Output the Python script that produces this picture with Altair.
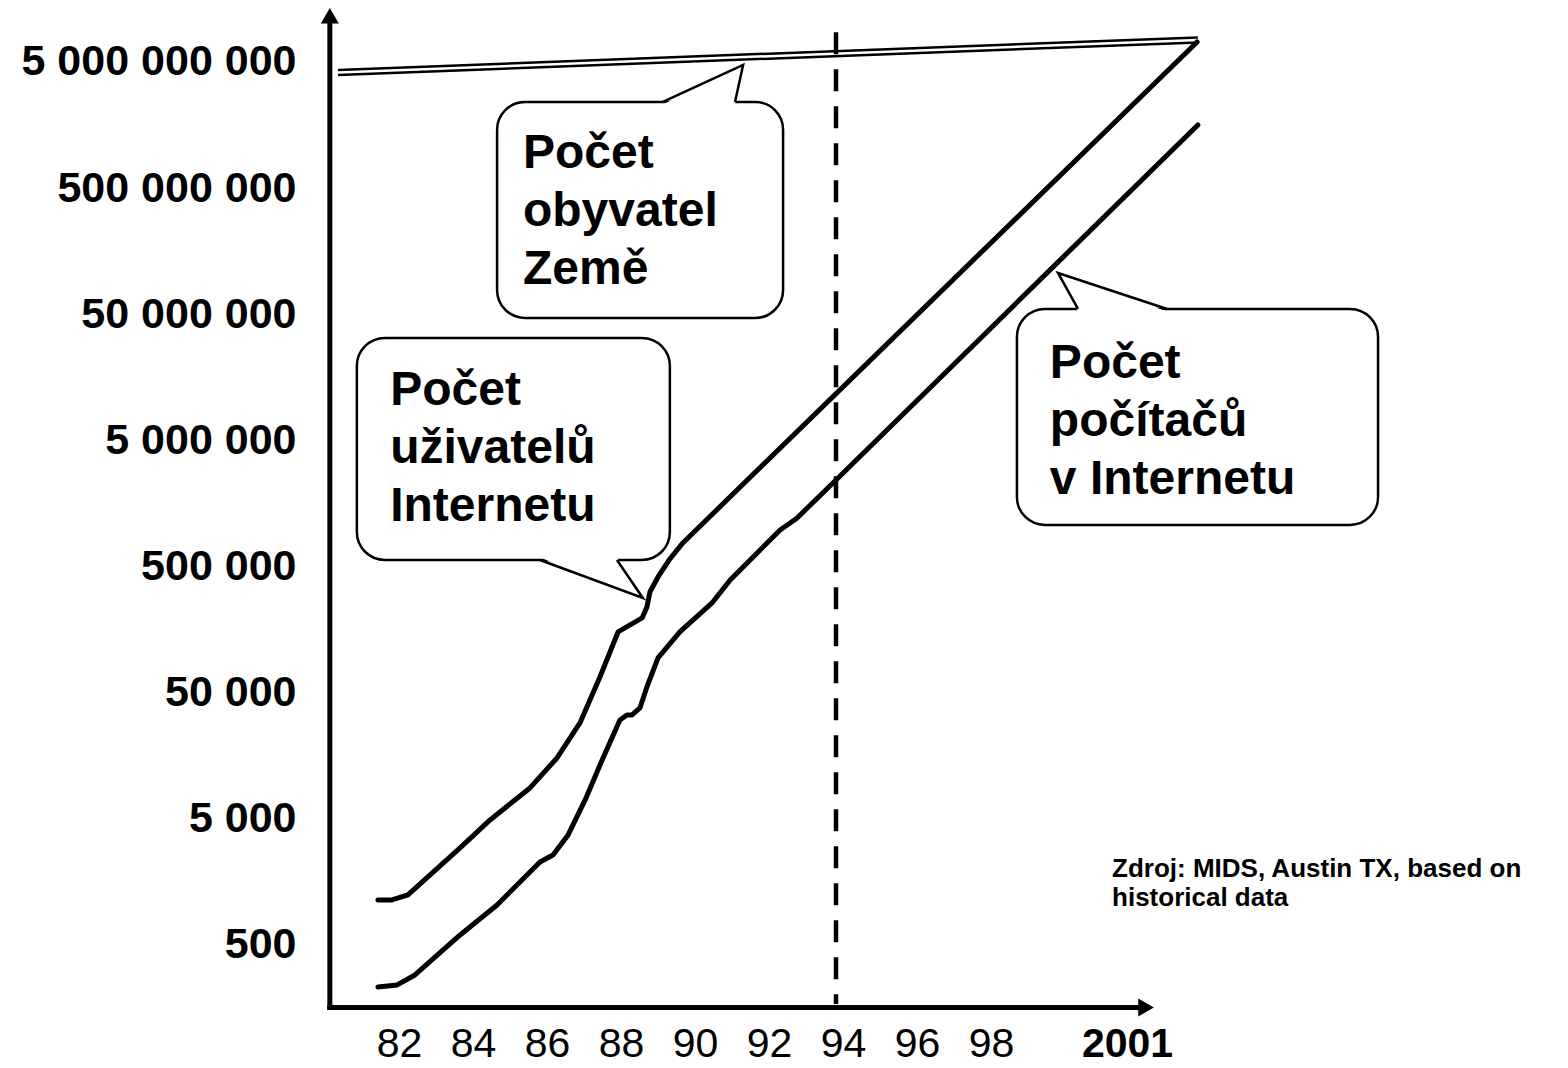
import altair as alt
import pandas as pd

# ---------------- values ----------------
users_year = [1981.62, 1982.00, 1982.43, 1983.03, 1983.84, 1984.65, 1985.73,
              1986.46, 1987.08, 1987.62, 1988.11, 1988.76, 1988.89, 1988.97,
              1989.19, 1989.51, 1989.86, 2003.76]
users_value = [1136, 1136, 1245, 1794, 2936, 4896, 8781, 15180, 28760, 66600,
               151400, 195600, 239000, 314300, 413200, 574000, 769000, 7.2e9]

hosts_year = [1981.62, 1982.14, 1982.62, 1983.84, 1984.84, 1986.00, 1986.35,
              1986.76, 1987.22, 1987.68, 1988.16, 1988.35, 1988.49, 1988.70,
              1988.89, 1989.19, 1989.78, 1990.65, 1991.14, 1991.95, 1992.49,
              1992.95, 1994.00, 2003.78]
hosts_value = [232, 241, 289, 600, 1037, 2274, 2584, 3723, 7052, 14640, 30380,
               33290, 33290, 37820, 55490, 94210, 151400, 257100, 391200,
               676700, 974600, 1213000, 2428000, 1.584e9]

pop_year = [1980.54, 2003.78]
pop_value = [4.13e9, 7.47e9]

marker_year = [1994]
marker_top = [8.6e9]
marker_bottom = [170]

y_ticks = [500, 5000, 50000, 500000, 5e6, 5e7, 5e8, 5e9]
x_ticks = [1982, 1984, 1986, 1988, 1990, 1992, 1994, 1996, 1998, 2001]

# axis lines (drawn as arrows)
yaxis_year = [1980.32]
yaxis_from = [152.4]
yaxis_to = [1.037e10]
yarrow_value = [1.161e10]
xaxis_value = [159.6]
xaxis_from = [1980.25]
xaxis_to = [2002.2]
xarrow_year = [2002.38]

# speech-bubble callouts
callout_text = ["Počet\nobyvatel\nZemě",
                "Počet\nuživatelů\nInternetu",
                "Počet\npočítačů\nv Internetu"]
callout_x0 = [1984.84, 1981.05, 1998.89]
callout_x1 = [1992.57, 1989.51, 2008.65]
callout_top = [2.409e9, 3.243e7, 5.507e7]
callout_bottom = [4.672e7, 5.636e5, 1.068e6]
callout_text_x = [1985.54, 1981.95, 1999.78]
callout_text_y = [7.22e8, 9.55e6, 1.563e7]
tail_a = [1989.32, 1986.00, 2000.54]
tail_b = [1991.27, 1988.08, 2002.95]
tail_base = [2.409e9, 5.636e5, 5.507e7]
tail_inner = [2.30e9, 5.90e5, 5.26e7]
tail_tip_x = [1991.49, 1988.78, 2000.00]
tail_tip_y = [4.733e9, 2.816e5, 1.062e8]

source_text = ["Zdroj: MIDS, Austin TX, based on\nhistorical data"]
source_x = [2001.46]
source_y = [1728]

# ---------------- chart ----------------
FONT = "Liberation Sans, Arial, sans-serif"

xs = alt.Scale(domain=[1980, 2010], nice=False, zero=False)
ys = alt.Scale(type="log", domain=[164, 1.2e10], nice=False)

x_axis = alt.Axis(
    values=x_ticks,
    labelExpr="datum.value == 2001 ? '2001' : '' + (datum.value % 100)",
    labelFont=FONT, labelFontSize=41, labelColor="black",
    labelFontWeight={"condition": {"test": "datum.value == 2001", "value": "bold"},
                     "value": "normal"},
    labelOffset={"condition": {"test": "datum.value == 2001", "value": 32},
                 "value": 7},
    labelPadding=18, labelFlush=False, labelOverlap=False, labelLimit=0,
    domain=False, ticks=False, tickSize=0, grid=False, title=None,
)
y_axis = alt.Axis(
    values=y_ticks,
    labelExpr="replace(format(datum.value, ','), regexp(',', 'g'), ' ')",
    labelFont=FONT, labelFontSize=43, labelFontWeight="bold", labelColor="black",
    labelPadding=22, labelFlush=False, labelOverlap=False, labelAlign="right",
    labelBaseline="middle", labelLimit=0,
    domain=False, ticks=False, tickSize=0, grid=False, title=None,
)


def X(f):
    return alt.X(f"{f}:Q", scale=xs, axis=x_axis)


def Y(f):
    return alt.Y(f"{f}:Q", scale=ys, axis=y_axis)


users_df = pd.DataFrame({"year": users_year, "value": users_value})
hosts_df = pd.DataFrame({"year": hosts_year, "value": hosts_value})
pop_df = pd.DataFrame({"year": pop_year, "value": pop_value})

line_style = dict(color="black", strokeWidth=5, strokeCap="round", strokeJoin="round")
users = alt.Chart(users_df).mark_line(**line_style).encode(x=X("year"), y=Y("value"))
hosts = alt.Chart(hosts_df).mark_line(**line_style).encode(x=X("year"), y=Y("value"))
pop_outer = alt.Chart(pop_df).mark_line(color="black", strokeWidth=7.5).encode(
    x=X("year"), y=Y("value"))
pop_inner = alt.Chart(pop_df).mark_line(color="white", strokeWidth=2.5).encode(
    x=X("year"), y=Y("value"))

marker_df = pd.DataFrame({"year": marker_year, "top": marker_top, "bottom": marker_bottom})
marker = alt.Chart(marker_df).mark_rule(
    color="black", strokeWidth=4.5, strokeDash=[22, 15]
).encode(x=X("year"), y=Y("top"), y2="bottom:Q")

# axes with arrows
yaxis_df = pd.DataFrame({"year": yaxis_year, "a": yaxis_from, "b": yaxis_to,
                         "tip": yarrow_value})
yaxis_line = alt.Chart(yaxis_df).mark_rule(color="black", strokeWidth=5).encode(
    x=X("year"), y=Y("a"), y2="b:Q")
yaxis_arrow = alt.Chart(yaxis_df).mark_point(
    shape="triangle-up", filled=True, size=324, color="black", opacity=1
).encode(x=X("year"), y=Y("tip"))

xaxis_df = pd.DataFrame({"value": xaxis_value, "a": xaxis_from, "b": xaxis_to,
                         "tip": xarrow_year})
xaxis_line = alt.Chart(xaxis_df).mark_rule(color="black", strokeWidth=5).encode(
    y=Y("value"), x=X("a"), x2="b:Q")
xaxis_arrow = alt.Chart(xaxis_df).mark_point(
    shape="triangle-right", filled=True, size=324, color="black", opacity=1
).encode(y=Y("value"), x=X("tip"))

# callouts
box_df = pd.DataFrame({"x0": callout_x0, "x1": callout_x1,
                       "y0": callout_top, "y1": callout_bottom})
boxes = alt.Chart(box_df).mark_rect(
    fill="white", stroke="black", strokeWidth=2.5, cornerRadius=28
).encode(x=X("x0"), x2="x1:Q", y=Y("y0"), y2="y1:Q")

tail_fill_rows = []
tail_line_rows = []
for i in range(len(tail_a)):
    tail_fill_rows.append({"t": i, "ty": tail_inner[i], "tx": tail_a[i], "tx2": tail_b[i]})
    tail_fill_rows.append({"t": i, "ty": tail_tip_y[i], "tx": tail_tip_x[i], "tx2": tail_tip_x[i]})
    tail_line_rows.append({"t": i, "o": 0, "lx": tail_a[i], "ly": tail_base[i]})
    tail_line_rows.append({"t": i, "o": 1, "lx": tail_tip_x[i], "ly": tail_tip_y[i]})
    tail_line_rows.append({"t": i, "o": 2, "lx": tail_b[i], "ly": tail_base[i]})
tail_fill_df = pd.DataFrame(tail_fill_rows)
tail_line_df = pd.DataFrame(tail_line_rows)

tail_fill = alt.Chart(tail_fill_df).mark_area(
    orient="horizontal", color="white", opacity=1
).encode(y=Y("ty"), x=X("tx"), x2="tx2:Q", detail="t:N")
tail_lines = alt.Chart(tail_line_df).mark_line(
    color="black", strokeWidth=2.5, strokeJoin="miter"
).encode(x=X("lx"), y=Y("ly"), detail="t:N", order="o:Q")

ctext_df = pd.DataFrame({"tx": callout_text_x, "ty": callout_text_y, "label": callout_text})
ctext = alt.Chart(ctext_df).mark_text(
    align="left", baseline="alphabetic", font=FONT, fontSize=48, fontWeight="bold",
    lineBreak="\n", lineHeight=58, color="black"
).encode(x=X("tx"), y=Y("ty"), text="label:N")

source_df = pd.DataFrame({"sx": source_x, "sy": source_y, "label": source_text})
source = alt.Chart(source_df).mark_text(
    align="left", baseline="alphabetic", font=FONT, fontSize=26, fontWeight="bold",
    lineBreak="\n", lineHeight=29, color="black"
).encode(x=X("sx"), y=Y("sy"), text="label:N")

chart = alt.layer(
    pop_outer, pop_inner, users, hosts, marker,
    yaxis_line, yaxis_arrow, xaxis_line, xaxis_arrow,
    boxes, tail_fill, tail_lines, ctext, source,
).properties(
    width=1110, height=992,
    padding={"left": 310, "top": 6, "right": 130, "bottom": 62},
    autosize=alt.AutoSizeParams(type="none"),
    background="white",
).configure_view(stroke=None)

chart.save("out.html", embed_options={"renderer": "svg", "actions": False})
